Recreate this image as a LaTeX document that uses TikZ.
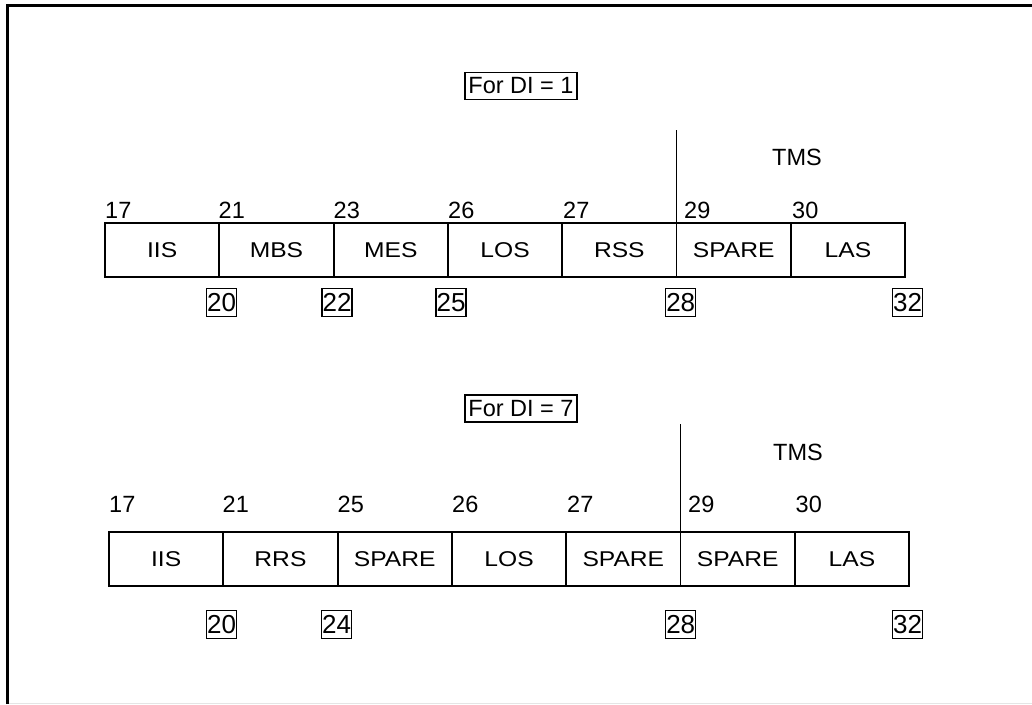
\documentclass[tikz,border=0pt]{standalone}
\usepackage{fontspec}
\setmainfont{Liberation Sans}
\newfontfamily\cellfamily{Liberation Sans}[FakeStretch=1.15]
\begin{document}
\begin{tikzpicture}[x=1pt,y=-1pt,
  every node/.style={font=\fontsize{23.5}{28}\selectfont},
  cell/.style={draw, line width=1.8pt, minimum width=114.3pt, minimum height=54pt, inner sep=0pt, outer sep=0pt, anchor=west,
    font=\cellfamily\fontsize{21.4}{25}\selectfont},
  num/.style={inner sep=0pt, anchor=west},
  boxnum/.style={draw, line width=1.3pt, minimum width=30pt, minimum height=28pt, inner sep=0pt,
    font=\fontsize{26}{30}\selectfont},
  title/.style={draw, line width=1.5pt, minimum width=112pt, minimum height=27pt, inner sep=0pt},
  lbl/.style={inner sep=0pt}]
\useasboundingbox (0,0) rectangle (1032,704);
% frame
\draw[line width=3pt] (7.5,704) -- (7.5,5) -- (1032,5);
\draw[line width=1pt, black!10] (9,703.5) -- (1032,703.5);

% ---------- Row 1 ----------
\node[title] (t1) at (521,86) {For DI = 1};
\node[cell] (a1) at (105,250.3) {IIS};
\node[cell] (a2) at (a1.east) {MBS};
\node[cell] (a3) at (a2.east) {MES};
\node[cell] (a4) at (a3.east) {LOS};
\node[cell] (a5) at (a4.east) {RSS};
\node[cell] (a6) at (a5.east) {SPARE};
\node[cell] (a7) at (a6.east) {LAS};
\coordinate (ta) at (a6.north west |- 0,130);
\draw[line width=1.8pt] (ta) -- (a6.north west);
\node[lbl] (tms1) at (797,157) {TMS};
\node[num] (n17a) at (105,210) {17};
\node[num] (n21a) at (218.5,210) {21};
\node[num] (n23a) at (333.5,210) {23};
\node[num] (n26a) at (448,210) {26};
\node[num] (n27a) at (563,210) {27};
\node[num] (n29a) at (684,210) {29};
\node[num] (n30a) at (792,210) {30};
\node[boxnum] (b20a) at (221.7,302.3) {20};
\node[boxnum] (b22a) at (337,302.3) {22};
\node[boxnum] (b25a) at (451,302.3) {25};
\node[boxnum] (b28a) at (680.7,302.3) {28};
\node[boxnum] (b32a) at (907.5,302.3) {32};

% ---------- Row 2 ----------
\node[title] (t2) at (521,408.7) {For DI = 7};
\node[cell] (c1) at (109,558.7) {IIS};
\node[cell] (c2) at (c1.east) {RRS};
\node[cell] (c3) at (c2.east) {SPARE};
\node[cell] (c4) at (c3.east) {LOS};
\node[cell] (c5) at (c4.east) {SPARE};
\node[cell] (c6) at (c5.east) {SPARE};
\node[cell] (c7) at (c6.east) {LAS};
\coordinate (tc) at (c6.north west |- 0,424);
\draw[line width=1.8pt] (tc) -- (c6.north west);
\node[lbl] (tms2) at (798,452) {TMS};
\node[num] (n17c) at (109,504) {17};
\node[num] (n21c) at (222.5,504) {21};
\node[num] (n25c) at (337.5,504) {25};
\node[num] (n26c) at (452,504) {26};
\node[num] (n27c) at (567,504) {27};
\node[num] (n29c) at (688,504) {29};
\node[num] (n30c) at (795.5,504) {30};
\node[boxnum] (b20c) at (221.7,624.5) {20};
\node[boxnum] (b24c) at (336.7,624.5) {24};
\node[boxnum] (b28c) at (680.7,624.5) {28};
\node[boxnum] (b32c) at (907.5,624.5) {32};
\end{tikzpicture}
\end{document}
